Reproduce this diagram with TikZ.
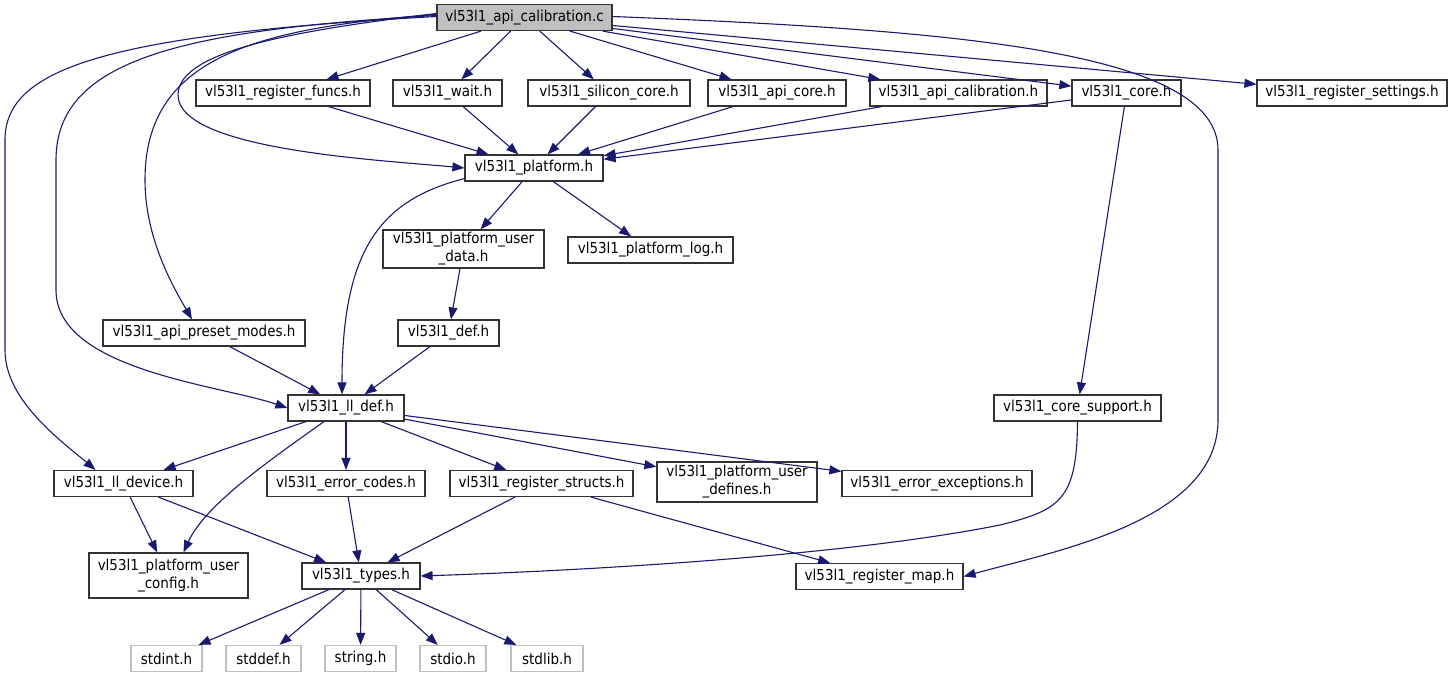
\documentclass[tikz,border=0pt]{standalone}
\usepackage{fontspec}
\setmainfont{DejaVu Sans Condensed}
\usetikzlibrary{arrows.meta}
\definecolor{edgeblue}{HTML}{191970}
\definecolor{sysgray}{HTML}{BFBFBF}
\tikzset{
  filebox/.style={draw=black!80, line width=1.2pt, fill=white, inner sep=0pt,
    minimum height=26pt, align=center, font=\fontsize{15}{18}\selectfont},
  rootbox/.style={filebox, fill=sysgray},
  sysbox/.style={filebox, draw=sysgray},
  incl/.style={draw=edgeblue, line width=1.1pt, -{Triangle[length=12pt,width=9pt]}},
}
\begin{document}
\begin{tikzpicture}[x=1pt, y=-1pt]
        \useasboundingbox (0,0) rectangle (1453,679);
        % top file
        \node[rootbox, minimum width=175pt] (root) at (524.5,17.5) {vl53l1\_api\_calibration.c};
        % first row
        \node[filebox, minimum width=174pt] (regfuncs) at (283,93) {vl53l1\_register\_funcs.h};
        \node[filebox, minimum width=109pt] (wait) at (447.5,93) {vl53l1\_wait.h};
        \node[filebox, minimum width=162pt] (silicon) at (609,93) {vl53l1\_silicon\_core.h};
        \node[filebox, minimum width=138pt] (apicore) at (777,93) {vl53l1\_api\_core.h};
        \node[filebox, minimum width=177pt] (apicalib) at (958.5,93) {vl53l1\_api\_calibration.h};
        \node[filebox, minimum width=109pt] (core) at (1126.5,93) {vl53l1\_core.h};
        \node[filebox, minimum width=190pt] (regsettings) at (1352,93) {vl53l1\_register\_settings.h};
        % platform layer
        \node[filebox, minimum width=138pt] (platform) at (534,168) {vl53l1\_platform.h};
        \node[filebox, minimum width=161pt, minimum height=38pt] (userdata) at (463.5,249) {vl53l1\_platform\_user\\\_data.h};
        \node[filebox, minimum width=165pt] (platlog) at (650.5,250) {vl53l1\_platform\_log.h};
        \node[filebox, minimum width=202pt] (preset) at (204,333) {vl53l1\_api\_preset\_modes.h};
        \node[filebox, minimum width=101pt] (def) at (448.5,333) {vl53l1\_def.h};
        \node[filebox, minimum width=116pt] (lldef) at (346,408) {vl53l1\_ll\_def.h};
        \node[filebox, minimum width=167pt] (coresupport) at (1077.5,408) {vl53l1\_core\_support.h};
        % ll_def includes
        \node[filebox, minimum width=139pt] (lldevice) at (123.5,483.5) {vl53l1\_ll\_device.h};
        \node[filebox, minimum width=158pt] (errcodes) at (346,483.5) {vl53l1\_error\_codes.h};
        \node[filebox, minimum width=183pt] (regstructs) at (541.5,483.5) {vl53l1\_register\_structs.h};
        \node[filebox, minimum width=160pt, minimum height=40pt] (userdefines) at (737,482) {vl53l1\_platform\_user\\\_defines.h};
        \node[filebox, minimum width=190pt] (errexc) at (937,483.5) {vl53l1\_error\_exceptions.h};
        \node[filebox, minimum width=159pt, minimum height=45pt] (userconfig) at (168.5,575.5) {vl53l1\_platform\_user\\\_config.h};
        \node[filebox, minimum width=118pt] (types) at (361,576) {vl53l1\_types.h};
        \node[filebox, minimum width=167pt] (regmap) at (879.5,576.5) {vl53l1\_register\_map.h};
        % system headers
        \node[sysbox, minimum width=71pt] (stdint) at (166.5,658.5) {stdint.h};
        \node[sysbox, minimum width=75pt] (stddef) at (263.5,658.5) {stddef.h};
        \node[sysbox, minimum width=71pt] (string) at (360.5,658.5) {string.h};
        \node[sysbox, minimum width=66pt] (stdio) at (453,658.5) {stdio.h};
        \node[sysbox, minimum width=72pt] (stdlib) at (547,658.5) {stdlib.h};

        % edges from the top file
        \foreach \t in {regfuncs,wait,silicon,apicore,apicalib,core,regsettings}
          \draw[incl] (root) -- (\t);
        \draw[incl] ([yshift=4pt]root.west) .. controls (300,30) and (178,50) .. (178,95)
          .. controls (178,150) and (380,160) .. (platform.west);
        \draw[incl] ([yshift=3pt]root.west) .. controls (250,28) and (145,60) .. (145,180)
          .. controls (145,240) and (175,290) .. ([xshift=-12pt]preset.north);
        \draw[incl] ([yshift=2pt]root.west) .. controls (180,30) and (56,60) .. (56,160)
          -- (56,290) .. controls (56,370) and (220,385) .. (lldef.west);
        \draw[incl] ([yshift=1pt]root.west) .. controls (100,35) and (5,70) .. (5,140)
          -- (5,350) .. controls (5,400) and (60,440) .. ([xshift=-28pt]lldevice.north);
        \draw[incl] ([yshift=1pt]root.east) .. controls (950,30) and (1218,50) .. (1218,150)
          -- (1218,420) .. controls (1218,520) and (1060,550) .. (regmap.east);

        % into platform.h
        \foreach \s in {regfuncs,wait,silicon,apicore,apicalib,core}
          \draw[incl] (\s) -- (platform);
        \draw[incl] (core) -- (coresupport);
        \draw[incl] (platform) -- (userdata);
        \draw[incl] (platform) -- (platlog);
        \draw[incl] ([yshift=3pt]platform.south west) .. controls (380,200) and (342,250) .. ([xshift=-4pt]lldef.north);
        \draw[incl] (userdata) -- (def);
        \draw[incl] (def) -- (lldef);
        \draw[incl] (preset) -- (lldef);

        % out of ll_def.h
        \foreach \t in {lldevice,errcodes,regstructs,userdefines,errexc}
          \draw[incl] (lldef) -- (\t);
        \draw[incl] ([xshift=-22pt]lldef.south) .. controls (270,460) and (205,505) .. ([xshift=15pt]userconfig.north);
        \draw[incl] (coresupport.south) .. controls (1077,500) and (1060,510) .. (1000,525)
          .. controls (850,555) and (600,570) .. (types.east);
        \draw[incl] (lldevice) -- (userconfig);
        \draw[incl] (lldevice) -- (types);
        \draw[incl] (errcodes) -- (types);
        \draw[incl] (regstructs) -- (types);
        \draw[incl] (regstructs) -- (regmap);
        \foreach \t in {stdint,stddef,string,stdio,stdlib}
          \draw[incl] (types) -- (\t);
      \end{tikzpicture}
\end{document}
